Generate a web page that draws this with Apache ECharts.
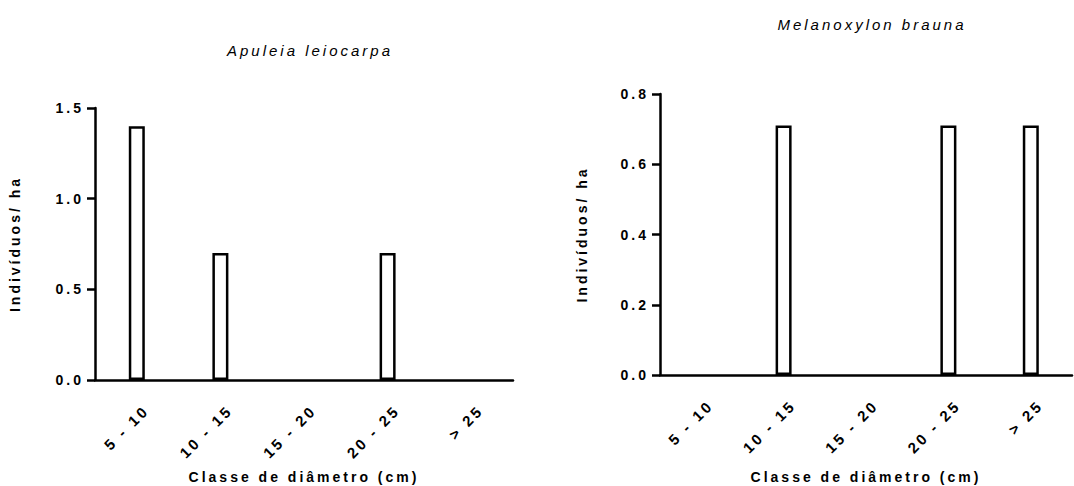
<!DOCTYPE html>
<html>
<head>
<meta charset="utf-8">
<script src="https://cdn.jsdelivr.net/npm/echarts@6/dist/echarts.min.js"></script>
<style>
  html, body { margin: 0; padding: 0; background: #fff; }
  #chart { width: 1074px; height: 486px; }
  /* widely tracked lettering, as in the printed figure */
  #chart text { letter-spacing: 3px; }
</style>
</head>
<body>
<div id="chart"></div>
<script>
// Diameter classes (cm)
const categories = ['5 - 10', '10 - 15', '15 - 20', '20 - 25', '> 25'];
// Individuals per hectare in each class
const apuleiaValues = [1.4, 0.7, 0, 0.7, 0];
const melanoxylonValues = [0, 0.71, 0, 0.71, 0.71];
// Species names shown above each panel
const speciesNames = ['Apuleia leiocarpa', 'Melanoxylon brauna'];
const xAxisName = 'Classe de diâmetro (cm)';
const yAxisName = 'Indivíduos/ ha';

const FONT = '"Liberation Sans", Arial, sans-serif';
const black = '#000';
const LW = 2.5;

function catAxis(gridIndex, nameGap) {
  return {
    type: 'category',
    gridIndex: gridIndex,
    data: categories,
    name: xAxisName,
    nameLocation: 'middle',
    nameGap: nameGap,
    nameTextStyle: { fontFamily: FONT, fontSize: 14, lineHeight: 14, fontWeight: 'bold', color: black },
    axisLine: { lineStyle: { color: black, width: LW } },
    axisTick: { alignWithLabel: true, length: 8, lineStyle: { color: black, width: LW } },
    axisLabel: {
      rotate: 45, margin: 18, verticalAlign: 'top', padding: [6, 0, 0, 0],
      fontFamily: FONT, fontSize: 15, fontWeight: 'bold', color: black
    }
  };
}

function valAxis(gridIndex, max, interval, nameGap) {
  return {
    type: 'value',
    gridIndex: gridIndex,
    min: 0,
    max: max,
    interval: interval,
    name: yAxisName,
    nameLocation: 'middle',
    nameGap: nameGap,
    nameTextStyle: { fontFamily: FONT, fontSize: 14, fontWeight: 'bold', color: black },
    axisLine: { show: true, lineStyle: { color: black, width: LW } },
    axisTick: { show: true, length: 8, lineStyle: { color: black, width: LW } },
    axisLabel: {
      margin: 11, fontFamily: FONT, fontSize: 14, fontWeight: 'bold', color: black,
      formatter: v => v.toFixed(1)
    },
    splitLine: { show: false }
  };
}

function barSeries(idx, values) {
  return {
    type: 'bar',
    xAxisIndex: idx,
    yAxisIndex: idx,
    // empty classes get no outline on the baseline
    data: values.map(v => (v === 0 ? null : v)),
    barWidth: 16,
    itemStyle: { color: '#fff', borderColor: black, borderWidth: LW },
    emphasis: { disabled: true },
    animation: false
  };
}

const titleStyle = { fontFamily: FONT, fontSize: 15, fontStyle: 'italic', fontWeight: 'normal', color: black };

const chart = echarts.init(document.getElementById('chart'), null, { renderer: 'svg' });
chart.setOption({
  backgroundColor: '#fff',
  animation: false,
  title: [
    { text: speciesNames[0], left: 305, top: 38, textAlign: 'center', textStyle: titleStyle },
    { text: speciesNames[1], left: 867, top: 12, textAlign: 'center', textStyle: titleStyle }
  ],
  grid: [
    { left: 95, right: 561, top: 108, bottom: 106, outerBoundsMode: 'none' },
    { left: 660, right: 2, top: 94, bottom: 111, outerBoundsMode: 'none' }
  ],
  xAxis: [catAxis(0, 90), catAxis(1, 95)],
  yAxis: [valAxis(0, 1.5, 0.5, 73), valAxis(1, 0.8, 0.2, 71)],
  series: [barSeries(0, apuleiaValues), barSeries(1, melanoxylonValues)]
});
</script>
</body>
</html>
